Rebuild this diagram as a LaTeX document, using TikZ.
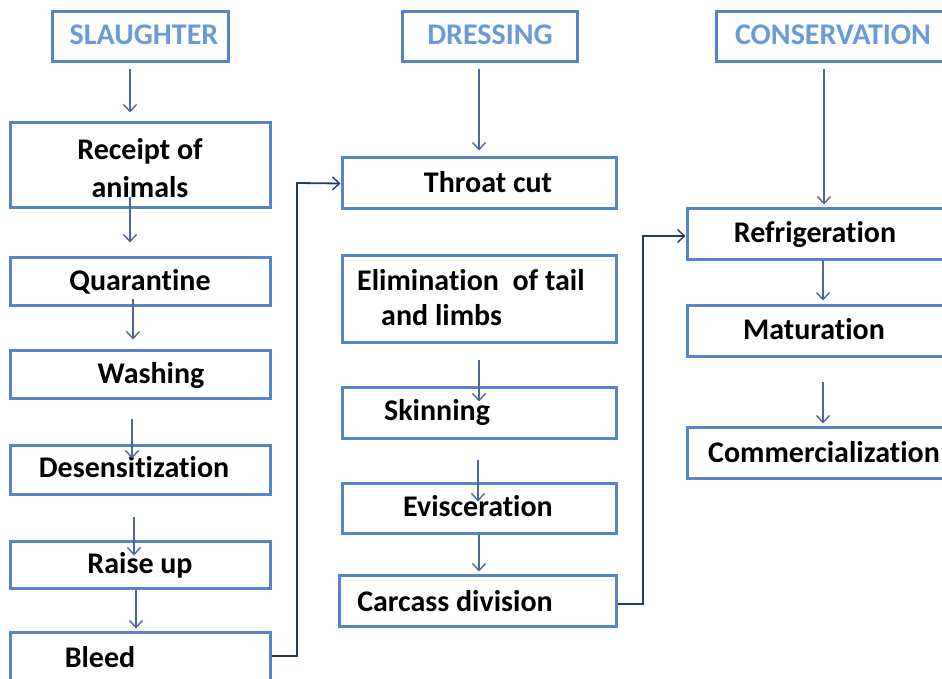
\documentclass[tikz,border=0pt]{standalone}
\usepackage{fontspec}
\setmainfont{Carlito}[Ligatures=NoCommon]
\usetikzlibrary{arrows.meta,calc}
\definecolor{boxblue}{HTML}{5585C4}
\definecolor{headblue}{HTML}{6A9BD8}
\definecolor{flowblue}{HTML}{4F6796}
\definecolor{linknavy}{HTML}{22386E}

\begin{document}
\begin{tikzpicture}[x=1pt,y=-1pt,
  stage/.style={draw=boxblue, line width=3pt, rectangle, inner sep=0pt, fill=white},
  steptext/.style={font=\fontsize{30}{36}\selectfont\bfseries, text=black, inner sep=0pt, anchor=base},
  headtext/.style={font=\fontsize{30}{36}\selectfont\bfseries, text=headblue, inner sep=0pt, anchor=base},
  flow/.style={draw=flowblue, line width=1.4pt,
    -{Straight Barb[length=7pt,width=13pt,line width=1.4pt]}},
  link/.style={draw=linknavy, line width=1.8pt,
    -{Straight Barb[length=7pt,width=13pt,line width=1.4pt]}}]

\useasboundingbox (0,0) rectangle (942,679);

% ---------- column 1: slaughter ----------
\node[stage, minimum width=176pt, minimum height=50pt] (slaughter) at (140,37) {};
\node[headtext] (slaughterT) at (144,45) {SLAUGHTER};

\node[stage, minimum width=260pt, minimum height=85pt] (receipt) at (140,165.5) {};
% multi-line text: the base anchor sits on the last line
\node[steptext, align=center] (receiptT) at (140,197) {Receipt of\\[2pt]animals};

\node[stage, minimum width=260pt, minimum height=48pt] (quarantine) at (140,281) {};
\node[steptext] (quarantineT) at (140,290.5) {Quarantine};

\node[stage, minimum width=260pt, minimum height=48pt] (washing) at (140,374) {};
\node[steptext] (washingT) at (151,383.5) {Washing};

\node[stage, minimum width=260pt, minimum height=49pt] (desens) at (140,469.5) {};
\node[steptext] (desensT) at (134,477.5) {Desensitization};

\node[stage, minimum width=260pt, minimum height=47pt] (raise) at (140,564.5) {};
\node[steptext] (raiseT) at (140,573) {Raise up};

\node[stage, minimum width=260pt, minimum height=52pt] (bleed) at (140,658) {};
\node[steptext] (bleedT) at (100,667) {Bleed};

% ---------- column 2: dressing ----------
\node[stage, minimum width=175pt, minimum height=50pt] (dressing) at (489.5,37) {};
\node[headtext] (dressingT) at (490,45) {DRESSING};

\node[stage, minimum width=274pt, minimum height=51pt] (throat) at (479,183.5) {};
\node[steptext] (throatT) at (488,193) {Throat cut};

\node[stage, minimum width=274pt, minimum height=87pt] (elim) at (479,298.5) {};
\node[steptext, anchor=base west, align=left] (elimT) at (357,325)
  {Elimination\ \ of tail\\[-1pt]\hspace*{24pt}and limbs};

\node[stage, minimum width=274pt, minimum height=51pt] (skin) at (479,412.5) {};
\node[steptext] (skinT) at (437,420) {Skinning};

\node[stage, minimum width=274pt, minimum height=50pt] (evisc) at (479,508) {};
\node[steptext] (eviscT) at (478,516) {Evisceration};

\node[stage, minimum width=277pt, minimum height=51pt] (carcass) at (477.5,600.5) {};
\node[steptext] (carcassT) at (455,611) {Carcass division};

% ---------- column 3: conservation ----------
\node[stage, minimum width=230pt, minimum height=50pt] (conserv) at (831,37) {};
\node[headtext] (conservT) at (833,45) {CONSERVATION};

\node[stage, minimum width=262pt, minimum height=50pt] (refrig) at (818,234) {};
\node[steptext] (refrigT) at (815,242) {Refrigeration};

\node[stage, minimum width=262pt, minimum height=51pt] (matur) at (818,330.5) {};
\node[steptext] (maturT) at (814,339) {Maturation};

\node[stage, minimum width=262pt, minimum height=51pt] (comm) at (818,452.5) {};
\node[steptext] (commT) at (824,462) {Commercialization};

% ---------- arrows within column 1 ----------
\draw[flow] ($(slaughter.south)+(-10,6)$) -- ($(receipt.north)+(-10,-9)$);
\draw[flow] ($(receipt.south)+(-10,-12)$) -- ($(quarantine.north)+(-10,-13)$);
\draw[flow] ($(quarantine.south)+(-7,-8)$) -- ($(washing.north)+(-7,-9)$);
\draw[flow] ($(washing.south)+(-8,19)$) -- ($(desens.north)+(-8,15)$);
\draw[flow] ($(desens.south)+(-6,21)$) -- ($(raise.north)+(-6,16)$);
\draw[flow] (raise.south -| 136,0) -- ($(bleed.north)+(-4,-2)$);

% ---------- arrows within column 2 ----------
\draw[flow] ($(dressing.south)+(-10.5,6)$) -- ($(throat.north)+(0,-6)$);
\draw[flow] ($(elim.south)+(0,16)$) -- ($(skin.north)+(0,16)$);
\draw[flow] ($(skin.south)+(-1,20)$) -- ($(evisc.north)+(-1,20)$);
\draw[flow] (evisc.south) -- ($(carcass.north)+(1.5,-2)$);

% ---------- arrows within column 3 ----------
\draw[flow] ($(conserv.south)+(-7,6)$) -- ($(refrig.north)+(6,-3)$);
\draw[flow] (refrig.south -| 823,0) -- ($(matur.north)+(5,-3)$);
\draw[flow] ($(matur.south)+(5,24)$) -- ($(comm.north)+(5,-2)$);

% ---------- links between columns ----------
\draw[link] (bleed.east |- 0,656) -| (297,183) -- (throat.west);
\draw[link] (carcass.east |- 0,604) -| (643,236) -- (refrig.west |- 0,236);

\end{tikzpicture}
\end{document}
